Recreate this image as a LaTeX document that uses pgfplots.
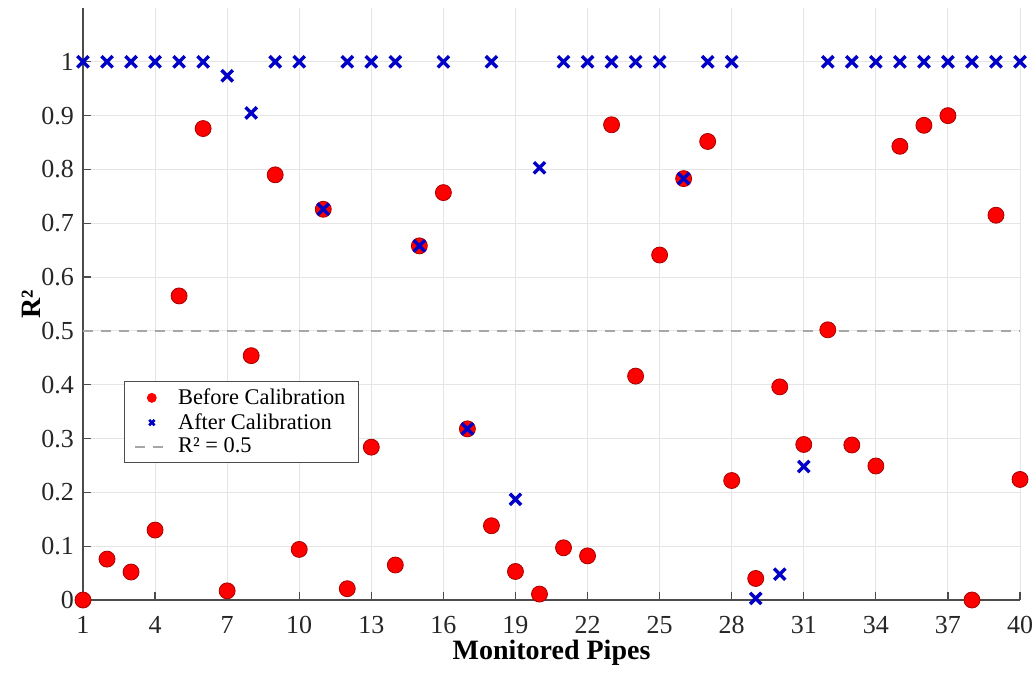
\documentclass[border=0pt]{standalone}
\usepackage{fontspec}
\setmainfont{Liberation Serif}
\usepackage{pgfplots}
\pgfplotsset{compat=1.18}
\definecolor{mred}{rgb}{1,0,0}
\definecolor{mredE}{rgb}{0.65,0,0}
\definecolor{mblue}{rgb}{0,0,0.78}
\definecolor{gridc}{gray}{0.9}
\definecolor{axc}{gray}{0.3}
\begin{document}
\begin{tikzpicture}
\begin{axis}[
  name=ax,
  scale only axis,
  width=468.5pt, height=296pt,
  xmin=1, xmax=40, ymin=0, ymax=1.1,
  xtick={1,4,...,40},
  ytick={0,0.1,0.2,0.3,0.4,0.5,0.6,0.7,0.8,0.9,1},
  yticklabel style={/pgf/number format/fixed,/pgf/number format/precision=1},
  /pgf/number format/assume math mode=true,
  axis x line*=bottom, axis y line*=left,
  axis line style={axc, line width=0.6pt, -},
  tick style={axc, line width=0.6pt},
  tick align=inside,
  major tick length=4pt,
  grid=major,
  major grid style={gridc, line width=0.5pt},
  ticklabel style={font=\fontsize{13}{15}\selectfont, text=black!85},
  xticklabel style={yshift=-4.5pt},
  yticklabel style={xshift=-1pt},
  xlabel={\textbf{Monitored Pipes}},
  ylabel={\textbf{R²}},
  label style={font=\fontsize{14}{16}\selectfont},
  xlabel style={at={(axis description cs:0.5,-0.089)}, anchor=center},
  ylabel style={at={(axis description cs:-0.055,0.5)}, anchor=center, rotate=0},
  clip=false,
  legend style={at={(0.0438,0.370)}, anchor=north west, font=\fontsize{11.2}{13}\selectfont,
    draw=black!70, line width=0.5pt, inner xsep=4.5pt, inner ysep=1.5pt, row sep=-1pt,
    column sep=2pt, cells={anchor=west}},
  legend cell align=left,
]
\addplot[only marks, mark=*, mark size=4pt, mark options={fill=mred, draw=mredE, line width=0.4pt},
  forget plot] coordinates {
(1,0) (2,0.076) (3,0.052) (4,0.130) (5,0.565) (6,0.876) (7,0.017) (8,0.454) (9,0.790) (10,0.094)
(11,0.726) (12,0.021) (13,0.284) (14,0.065) (15,0.658) (16,0.757) (17,0.318) (18,0.138) (19,0.053) (20,0.011)
(21,0.097) (22,0.082) (23,0.883) (24,0.416) (25,0.641) (26,0.783) (27,0.852) (28,0.222) (29,0.040) (30,0.396)
(31,0.289) (32,0.502) (33,0.288) (34,0.249) (35,0.843) (36,0.882) (37,0.900) (38,0.0) (39,0.715) (40,0.224)
};
\addlegendimage{only marks, mark=*, mark size=2.2pt, mark options={fill=mred, draw=mred}}
\addlegendentry{Before Calibration}
\addplot[only marks, mark=x, mark size=4pt, mark options={draw=mblue, line width=1.7pt},
  forget plot] coordinates {
(1,1) (2,1) (3,1) (4,1) (5,1) (6,1) (7,0.974) (8,0.905) (9,1) (10,1)
(11,0.726) (12,1) (13,1) (14,1) (15,0.658) (16,1) (17,0.318) (18,1) (19,0.187) (20,0.803)
(21,1) (22,1) (23,1) (24,1) (25,1) (26,0.783) (27,1) (28,1) (29,0.003) (30,0.048)
(31,0.248) (32,1) (33,1) (34,1) (35,1) (36,1) (37,1) (38,1) (39,1) (40,1)
};
\addlegendimage{only marks, mark=x, mark size=1.9pt, mark options={draw=mblue, line width=1.3pt}}
\addlegendentry{After Calibration}
\addplot[gray!70, line width=1.2pt, dash pattern=on 5pt off 4pt] coordinates {(1,0.5) (40,0.5)};
\addlegendentry{R² = 0.5}
\end{axis}
\pgfresetboundingbox
\path[use as bounding box] ([xshift=-41.5pt,yshift=-37.5pt]ax.south west) rectangle ([xshift=476.5pt,yshift=300pt]ax.south west);
\end{tikzpicture}
\end{document}
